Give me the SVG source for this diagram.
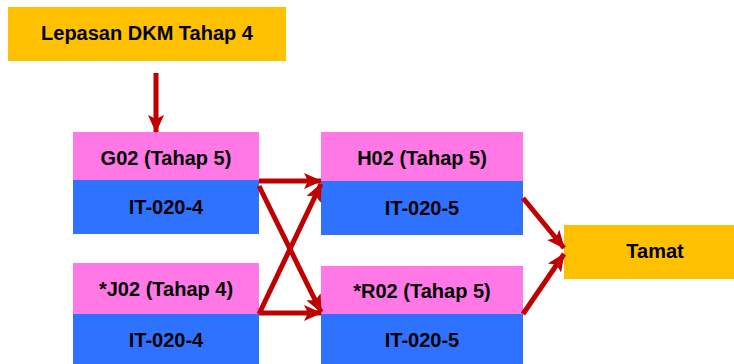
<svg xmlns="http://www.w3.org/2000/svg" width="734" height="364" viewBox="0 0 734 364">
<style>
.or{fill:#FFC000}
.pk{fill:#FF78E6}
.bl{fill:#2F72FF}
text{font-family:"Liberation Sans",Arial,sans-serif;font-weight:bold;font-size:20px;fill:#000;text-anchor:middle}
.cn{stroke:#C00000;stroke-width:5;fill:none;marker-end:url(#ah)}
</style>
<defs>
<marker id="ah" markerUnits="userSpaceOnUse" markerWidth="18" markerHeight="18" viewBox="0 0 18 18" refX="17" refY="9" orient="auto">
<path d="M0,1 L18,9 L0,17 L4,9 Z" fill="#C00000"/>
</marker>
</defs>
<rect width="734" height="364" fill="#fff"/>
<g id="start">
<rect class="or" x="8" y="7" width="278" height="54"/>
<text x="147" y="40">Lepasan DKM Tahap 4</text>
</g>
<g id="g02">
<rect class="pk" x="73" y="132" width="186" height="48"/>
<rect class="bl" x="73" y="180" width="186" height="54"/>
<text x="166" y="165">G02 (Tahap 5)</text>
<text x="166" y="214">IT-020-4</text>
</g>
<g id="j02">
<rect class="pk" x="73" y="263" width="186" height="51"/>
<rect class="bl" x="73" y="314" width="186" height="50"/>
<text x="166" y="296">*J02 (Tahap 4)</text>
<text x="166" y="347">IT-020-4</text>
</g>
<g id="h02">
<rect class="pk" x="321" y="132" width="202" height="49"/>
<rect class="bl" x="321" y="181" width="202" height="54"/>
<text x="422" y="165">H02 (Tahap 5)</text>
<text x="422" y="215">IT-020-5</text>
</g>
<g id="r02">
<rect class="pk" x="321" y="266" width="202" height="48"/>
<rect class="bl" x="321" y="314" width="202" height="50"/>
<text x="422" y="298">*R02 (Tahap 5)</text>
<text x="422" y="347">IT-020-5</text>
</g>
<g id="tamat">
<rect class="or" x="564" y="225" width="170" height="54"/>
<text x="655" y="258">Tamat</text>
</g>
<g id="connectors">
<line class="cn" x1="156" y1="73" x2="156" y2="132"/>
<line class="cn" x1="259" y1="181" x2="321" y2="181"/>
<line class="cn" x1="259" y1="186" x2="321" y2="312"/>
<line class="cn" x1="259" y1="314" x2="321" y2="184"/>
<line class="cn" x1="259" y1="313" x2="321" y2="313"/>
<line class="cn" x1="523" y1="198" x2="564" y2="248"/>
<line class="cn" x1="523" y1="314" x2="564" y2="254"/>
</g>
</svg>
